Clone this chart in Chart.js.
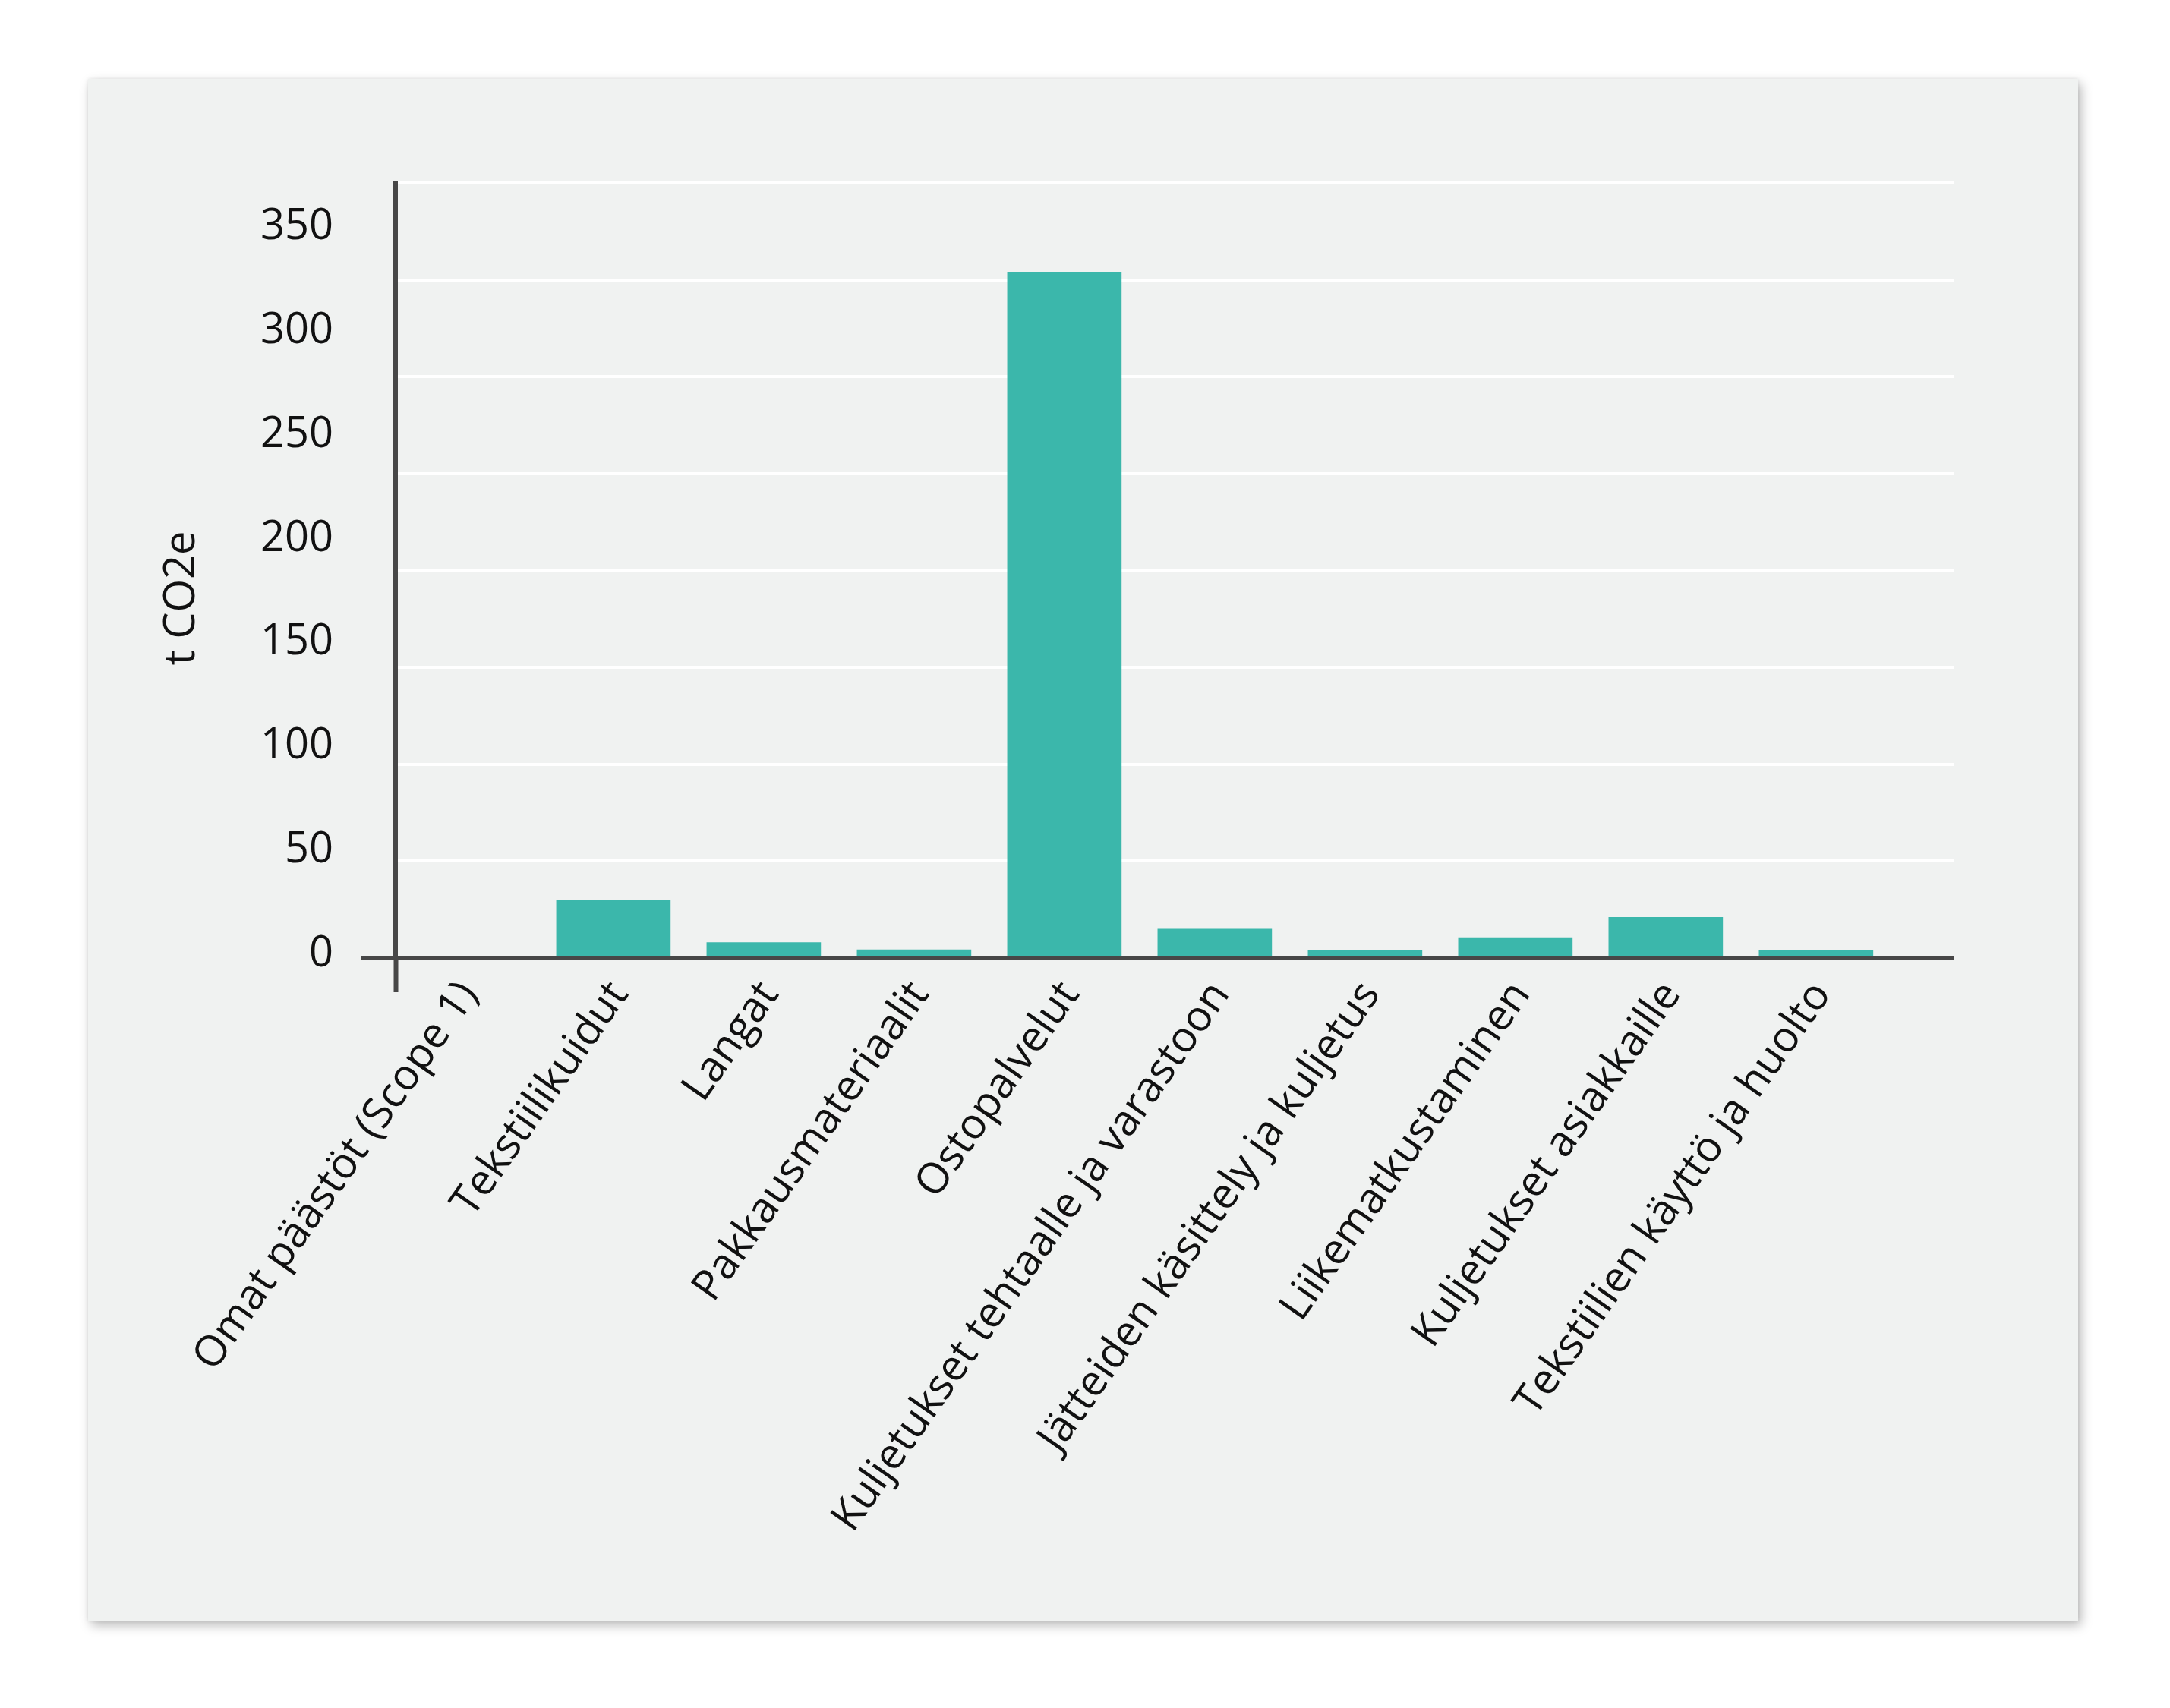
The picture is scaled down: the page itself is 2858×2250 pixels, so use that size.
<!DOCTYPE html>
<html>
<head>
<meta charset="utf-8">
<script src="https://cdn.jsdelivr.net/npm/chart.js@4/dist/chart.umd.min.js"></script>
<style>
html, body { margin: 0; padding: 0; background: #ffffff; width: 2858px; height: 2250px; overflow: hidden; }
#card { position: absolute; left: 116px; top: 104px; width: 2621px; height: 2031px; background: #f0f2f1;
        box-shadow: 4px 6px 14px rgba(0,0,0,0.28), 0 0 5px rgba(0,0,0,0.08); }
#card canvas { position: absolute; left: 0; top: 0; }
</style>
</head>
<body>
<div id="card"><canvas id="c"></canvas></div>
<script>
// ---- data ----
const categories = [
  "Omat päästöt (Scope 1)",
  "Tekstiilikuidut",
  "Langat",
  "Pakkausmateriaalit",
  "Ostopalvelut",
  "Kuljetukset tehtaalle ja varastoon",
  "Jätteiden käsittely ja kuljetus",
  "Liikematkustaminen",
  "Kuljetukset asiakkaille",
  "Tekstiilien käyttö ja huolto"
];
const values = [0, 30, 8, 4.3, 354, 15, 4, 10.5, 21, 4];
const yLabelValues = [0, 50, 100, 150, 200, 250, 300, 350];
const yLabelTexts = ["0", "50", "100", "150", "200", "250", "300", "350"];
const yAxisTitle = "t CO2e";

// ---- styles ----
const AXIS = "#474747";
const BAR = "#3bb7ab";
const TEXT = "#111111";
const FONT = { family: "Open Sans", size: 56, weight: "normal" };

const points = values.map((v, i) => ({ x: i, y: v }));

new Chart(document.getElementById("c"), {
  type: "bar",
  data: {
    datasets: [{
      data: points,
      backgroundColor: BAR,
      borderWidth: 0,
      barThickness: 150,
      yAxisID: "y",
      xAxisID: "x"
    }]
  },
  options: {
    responsive: true,
    maintainAspectRatio: false,
    animation: false,
    events: [],
    layout: { padding: { top: 137, right: 164, bottom: 0, left: 0 } },
    plugins: { legend: { display: false }, tooltip: { enabled: false } },
    scales: {
      x: {
        type: "linear",
        position: "bottom",
        offset: false,
        min: -0.449,
        max: 9.915,
        afterBuildTicks: (s) => {
          s.ticks = [{ value: s.min }].concat(categories.map((c, i) => ({ value: i })));
        },
        afterFit: (s) => { s.height = 873; },
        ticks: {
          autoSkip: false,
          minRotation: 55,
          maxRotation: 55,
          padding: -26,
          labelOffset: 8,
          color: TEXT,
          font: FONT,
          callback: (v) => (Number.isInteger(v) && categories[v] !== undefined) ? categories[v] : ""
        },
        grid: {
          display: true,
          offset: false,
          drawOnChartArea: false,
          drawTicks: true,
          tickLength: 45,
          tickWidth: 6,
          tickColor: (ctx) => ctx.index === 0 ? AXIS : "rgba(0,0,0,0)",
          color: "rgba(0,0,0,0)"
        },
        border: { display: true, color: AXIS, width: 5, z: 1 }
      },
      y: {
        type: "linear",
        position: "left",
        weight: 0,
        min: 0,
        max: 400,
        afterFit: (s) => { s.width = 46; },
        ticks: { stepSize: 50, display: false },
        grid: {
          display: true,
          drawOnChartArea: true,
          color: (ctx) => ctx.tick && ctx.tick.value === 0 ? "rgba(0,0,0,0)" : "#ffffff",
          lineWidth: 4,
          drawTicks: true,
          tickLength: 46,
          tickWidth: 5,
          tickColor: (ctx) => ctx.tick && ctx.tick.value === 0 ? AXIS : "rgba(0,0,0,0)"
        },
        border: { display: true, color: AXIS, width: 6, z: 1 }
      },
      yLab: {
        type: "linear",
        position: "left",
        weight: 1,
        min: -1.8,
        max: 371.2,
        afterBuildTicks: (s) => { s.ticks = yLabelValues.map(v => ({ value: v })); },
        afterFit: (s) => { s.width = 359; },
        ticks: {
          padding: 28,
          color: TEXT,
          font: FONT,
          callback: (v, i) => yLabelTexts[i]
        },
        grid: { display: false },
        border: { display: false },
        title: {
          display: true,
          text: yAxisTitle + "     ",
          color: TEXT,
          font: FONT,
          padding: { top: 90, bottom: 0 }
        }
      }
    }
  }
});
</script>
</body>
</html>
